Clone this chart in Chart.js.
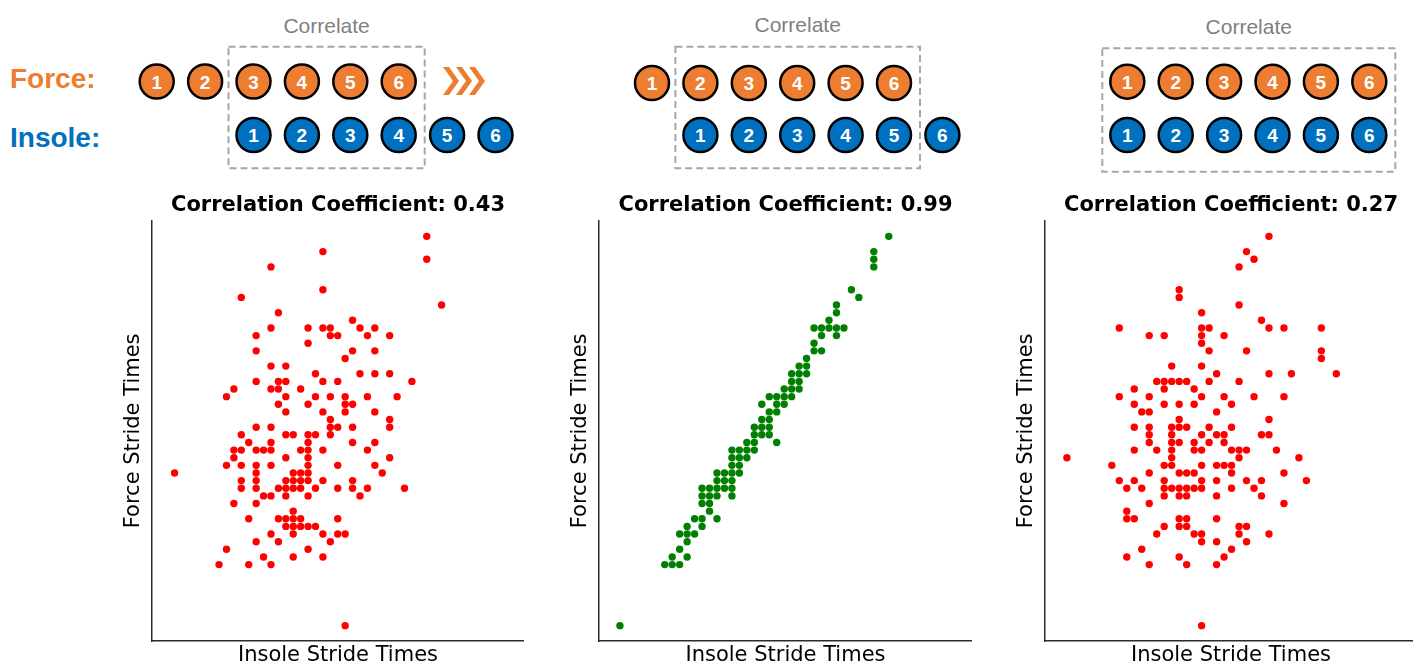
<!DOCTYPE html>
<html>
<head>
<meta charset="utf-8">
<title>Force vs insole stride times</title>
<script src="https://cdn.jsdelivr.net/npm/chart.js@4.4.1/dist/chart.umd.min.js"></script>
<style>
    html, body { margin: 0; padding: 0; background: #fff; overflow: hidden; }
    #page { position: relative; width: 1413px; height: 666px; overflow: hidden; }
    #page canvas { position: absolute; top: 190px; }
    #diagram { position: absolute; left: 0; top: 0; }
</style>
</head>
<body>
<div id="page">
    <svg id="diagram" width="1413" height="185"></svg>
    <canvas id="chart1" width="424" height="480" style="left:100px"></canvas>
    <canvas id="chart2" width="425" height="480" style="left:547px"></canvas>
    <canvas id="chart3" width="424" height="480" style="left:993px"></canvas>
</div>
<script>
// stride times in ms, one row per force value: [force, [insole, insole, ...]]
const lagTwoRows = [
    [1200, [1250]], [1180, [1110]], [1170, [1250]], [1160, [1040]], [1130, [1110]],
    [1120, [1000]], [1110, [1270]], [1100, [1050]], [1090, [1150]],
    [1080, [1040, 1090, 1110, 1120, 1160, 1180]],
    [1070, [1020, 1120, 1130, 1170, 1200]],
    [1060, [1090]],
    [1050, [1020, 1150, 1180]],
    [1040, [1140]],
    [1030, [1040, 1060]],
    [1020, [1100, 1160, 1180, 1200]],
    [1010, [1020, 1050, 1060, 1110, 1130, 1230]],
    [1000, [990, 1040, 1050, 1080]],
    [990, [980, 1060, 1100, 1120, 1140, 1170, 1210]],
    [980, [1050, 1090, 1140, 1150]],
    [970, [1060, 1110, 1140, 1180]],
    [960, [1120, 1200]],
    [950, [1020, 1040, 1120, 1130, 1150, 1200]],
    [940, [1000, 1060, 1070, 1090, 1100, 1120]],
    [930, [1010, 1040, 1090, 1150, 1180]],
    [920, [990, 1000, 1020, 1030, 1040, 1080, 1090, 1110, 1170]],
    [910, [990, 1060, 1090, 1200]],
    [900, [980, 1000, 1020, 1040, 1090, 1130, 1180]],
    [890, [910, 1020, 1070, 1080, 1090, 1190]],
    [880, [1000, 1020, 1060, 1070, 1080, 1090, 1110, 1150]],
    [870, [1000, 1020, 1050, 1060, 1070, 1080, 1100, 1130, 1150, 1170, 1220]],
    [860, [1030, 1040, 1060, 1090, 1160]],
    [850, [990, 1020]],
    [840, [1070]],
    [830, [1010, 1050, 1060, 1070, 1080, 1130]],
    [820, [1060, 1070, 1080, 1090, 1100]],
    [810, [1040, 1070, 1110, 1130, 1140]],
    [800, [1020, 1050, 1120]],
    [790, [980, 1090]],
    [780, [1030, 1070, 1110]],
    [770, [970, 1010, 1040]],
    [690, [1140]]
];

const lagOneRows = [
    [1200, [1180]], [1180, [1160]], [1170, [1160]], [1160, [1160]], [1130, [1130]],
    [1120, [1140]], [1110, [1110]], [1100, [1110]], [1090, [1100]],
    [1080, [1080, 1090, 1100, 1110, 1120]],
    [1070, [1090, 1110]],
    [1060, [1080]],
    [1050, [1080, 1090]],
    [1040, [1070]],
    [1030, [1060, 1070]],
    [1020, [1050, 1060, 1070]],
    [1010, [1050, 1060]],
    [1000, [1040, 1050, 1060]],
    [990, [1020, 1030, 1040, 1050]],
    [980, [1010, 1030, 1040]],
    [970, [1020, 1030]],
    [960, [1010, 1020]],
    [950, [1000, 1010, 1020]],
    [940, [1000, 1010, 1020]],
    [930, [990, 1000, 1030]],
    [920, [970, 980, 990, 1000]],
    [910, [970, 980, 990]],
    [900, [970, 980]],
    [890, [950, 960, 970, 980]],
    [880, [950, 960, 970]],
    [870, [930, 940, 950, 960, 970]],
    [860, [930, 940, 950, 970]],
    [850, [930, 940]],
    [840, [940]],
    [830, [920, 930, 950]],
    [820, [910, 930]],
    [810, [900, 910, 920]],
    [800, [910]],
    [790, [900]],
    [780, [890, 910]],
    [770, [880, 890, 900]],
    [690, [820]]
];

const noLagRows = [
    [1200, [1200]], [1180, [1170]], [1170, [1180]], [1160, [1160]], [1130, [1080]],
    [1120, [1080]], [1110, [1160]], [1100, [1110]], [1090, [1190]],
    [1080, [1000, 1110, 1120, 1200, 1220, 1270]],
    [1070, [1040, 1060, 1110, 1140]],
    [1060, [1110]],
    [1050, [1120, 1170, 1270]],
    [1040, [1270]],
    [1030, [1070, 1110]],
    [1020, [1130, 1200, 1230, 1290]],
    [1010, [1050, 1060, 1070, 1080, 1090, 1120, 1160]],
    [1000, [1020, 1060, 1100]],
    [990, [1000, 1040, 1110, 1140, 1180, 1220]],
    [980, [1020, 1060, 1080, 1100, 1150]],
    [970, [1030, 1040, 1130]],
    [960, [1080, 1200]],
    [950, [1020, 1040, 1070, 1080, 1090, 1120, 1150]],
    [940, [1040, 1070, 1110, 1130, 1140, 1190, 1200]],
    [930, [1040, 1070, 1080, 1100, 1120, 1140]],
    [920, [1020, 1050, 1070, 1100, 1110, 1150, 1160, 1170, 1210]],
    [910, [930, 1070, 1160, 1240]],
    [900, [990, 1060, 1070, 1110, 1130, 1140, 1150]],
    [890, [1040, 1080, 1090, 1100, 1150, 1220]],
    [880, [1000, 1020, 1060, 1110, 1130, 1170, 1190, 1250]],
    [870, [1010, 1030, 1060, 1070, 1080, 1090, 1100, 1110, 1150, 1180]],
    [860, [1060, 1080, 1090, 1130, 1190]],
    [850, [1040, 1220]],
    [840, [1010]],
    [830, [1010, 1020, 1080, 1090, 1130]],
    [820, [1060, 1080, 1090, 1160, 1170]],
    [810, [1050, 1100, 1110, 1160, 1200]],
    [800, [1110, 1130, 1170]],
    [790, [1030, 1150]],
    [780, [1010, 1080, 1140]],
    [770, [1040, 1090, 1130]],
    [690, [1110]]
];

const coefficients = ['0.43', '0.99', '0.27'];
const insoleLimits = [[879.6, 1381.1], [792.0, 1291.5], [900.7, 1397.8]];
const forceLimits = [669.9, 1220.5];

// top diagram: stride numbers and how many force strides lead the insole
const strideLabels = ['1', '2', '3', '4', '5', '6'];
const forceLead = [2, 1, 0];

const ORANGE = '#ED7D31';
const BLUE = '#0070C0';
const NS = 'http://www.w3.org/2000/svg';

Chart.defaults.font.family = 'DejaVu Sans';


function rowsToPoints(rows) {
    const points = [];
    rows.forEach(([force, insoles]) => {
        insoles.forEach(insole => points.push({ x: insole, y: force }));
    });
    return points;
}


function drawScatter(canvasId, rows, color, coefficient, insoleRange) {
    const ctx = document.getElementById(canvasId).getContext('2d');
    new Chart(ctx, {
        type: 'scatter',
        data: {
            datasets: [{
                data: rowsToPoints(rows),
                backgroundColor: color,
                borderWidth: 0,
                pointRadius: 3.7,
                pointHoverRadius: 3.7
            }]
        },
        options: {
            responsive: false,
            animation: false,
            layout: { padding: 0, autoPadding: false },
            plugins: {
                legend: { display: false },
                tooltip: { enabled: false },
                title: {
                    display: true,
                    fullSize: false,
                    text: 'Correlation Coefficient: ' + coefficient,
                    color: '#000',
                    font: { family: 'DejaVu Sans', size: 21, weight: 'bold' },
                    padding: { top: 3.3, bottom: 2.2 }
                }
            },
            scales: {
                x: {
                    type: 'linear',
                    min: insoleRange[0],
                    max: insoleRange[1],
                    ticks: { display: false },
                    grid: { display: false },
                    border: { display: true, color: '#2b2b2b', width: 1.5 },
                    title: {
                        display: true,
                        text: 'Insole Stride Times',
                        color: '#000',
                        font: { family: 'DejaVu Sans', size: 21 },
                        padding: { top: 0, bottom: 1.5 }
                    },
                    afterFit: scale => { scale.height = 29; }
                },
                y: {
                    type: 'linear',
                    min: forceLimits[0],
                    max: forceLimits[1],
                    ticks: { display: false },
                    grid: { display: false },
                    border: { display: true, color: '#2b2b2b', width: 1.5 },
                    title: {
                        display: true,
                        text: 'Force Stride Times',
                        color: '#000',
                        font: { family: 'DejaVu Sans', size: 21 },
                        padding: { top: 21.4, bottom: 0 }
                    },
                    afterFit: scale => { scale.width = 52; }
                }
            }
        }
    });
}


function addSvg(parent, tag, attrs, text) {
    const el = document.createElementNS(NS, tag);
    for (const key in attrs) {
        el.setAttribute(key, attrs[key]);
    }
    if (text !== undefined) {
        el.textContent = text;
    }
    parent.appendChild(el);
    return el;
}


function drawStrideCircle(svg, cx, cy, fill, label) {
    addSvg(svg, 'circle', { cx: cx, cy: cy, r: 17, fill: fill, stroke: '#000', 'stroke-width': 2.5 });
    addSvg(svg, 'text', {
        x: cx, y: cy + 7, 'text-anchor': 'middle', fill: '#fff',
        'font-family': 'Liberation Sans, Arial, sans-serif', 'font-size': 19, 'font-weight': 'bold'
    }, label);
}


function drawDiagram() {
    const svg = document.getElementById('diagram');
    const labelFont = { 'font-family': 'Liberation Sans, Arial, sans-serif', 'font-size': 28, 'font-weight': 'bold' };

    addSvg(svg, 'text', Object.assign({ x: 10, y: 88.3, fill: ORANGE }, labelFont), 'Force:');
    addSvg(svg, 'text', Object.assign({ x: 10, y: 146.7, fill: BLUE }, labelFont), 'Insole:');

    const panels = [
        { first: 156.7, forceY: 81.5, boxTop: 46.7, boxBottom: 168.3, textY: 33.3 },
        { first: 652.0, forceY: 83.0, boxTop: 46.7, boxBottom: 168.3, textY: 32.3 },
        { first: 1127.3, forceY: 81.7, boxTop: 48.3, boxBottom: 171.7, textY: 34.3 }
    ];
    const step = 48.4;
    const insoleY = 135;

    panels.forEach((p, k) => {
        const lead = forceLead[k];
        const boxLeft = p.first + step * lead - 25;
        const boxRight = p.first + step * 5 + 26;

        addSvg(svg, 'rect', {
            x: boxLeft, y: p.boxTop, width: boxRight - boxLeft, height: p.boxBottom - p.boxTop,
            fill: 'none', stroke: '#a6a6a6', 'stroke-width': 2, 'stroke-dasharray': '7 4'
        });
        addSvg(svg, 'text', {
            x: (boxLeft + boxRight) / 2, y: p.textY, 'text-anchor': 'middle', fill: '#7f7f7f',
            'font-family': 'Liberation Sans, Arial, sans-serif', 'font-size': 21
        }, 'Correlate');

        strideLabels.forEach((label, i) => {
            drawStrideCircle(svg, p.first + step * i, p.forceY, ORANGE, label);
            drawStrideCircle(svg, p.first + step * (i + lead), insoleY, BLUE, label);
        });
    });

    // shift arrow on the first panel
    for (let i = 0; i < 3; i++) {
        const x0 = 443 + 13 * i;
        addSvg(svg, 'polygon', {
            points: `${x0},67 ${x0 + 6},67 ${x0 + 16},81 ${x0 + 6},95 ${x0},95 ${x0 + 10},81`,
            fill: ORANGE
        });
    }
}


drawDiagram();
drawScatter('chart1', lagTwoRows, '#ff0000', coefficients[0], insoleLimits[0]);
drawScatter('chart2', lagOneRows, '#008000', coefficients[1], insoleLimits[1]);
drawScatter('chart3', noLagRows, '#ff0000', coefficients[2], insoleLimits[2]);
</script>
</body>
</html>
